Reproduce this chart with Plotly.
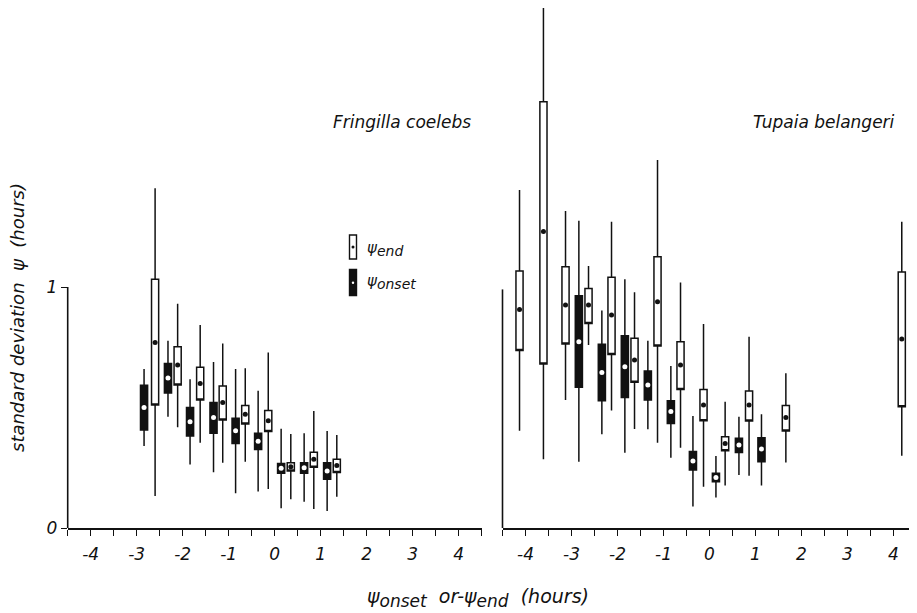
import plotly.graph_objects as go

# ---------------- data ----------------
# Fringilla coelebs (left panel)
fc_end_x = [-2.60, -2.11, -1.62, -1.13, -0.64, -0.14, 0.35, 0.85, 1.35]
fc_end_q3 = [1.032, 0.752, 0.667, 0.589, 0.508, 0.488, 0.271, 0.314, 0.285]
fc_end_q1 = [0.510, 0.593, 0.531, 0.448, 0.432, 0.400, 0.237, 0.252, 0.230]
fc_end_hi = [1.410, 0.930, 0.842, 0.766, 0.663, 0.728, 0.390, 0.485, 0.386]
fc_end_lo = [0.133, 0.418, 0.354, 0.271, 0.275, 0.162, 0.119, 0.079, 0.130]
fc_end_mean = [0.770, 0.676, 0.600, 0.521, 0.472, 0.445, 0.254, 0.285, 0.259]

fc_on_x = [-2.84, -2.32, -1.84, -1.33, -0.85, -0.36, 0.14, 0.64, 1.14]
fc_on_q3 = [0.592, 0.683, 0.500, 0.521, 0.455, 0.393, 0.268, 0.271, 0.271]
fc_on_q1 = [0.407, 0.560, 0.382, 0.393, 0.351, 0.326, 0.227, 0.227, 0.202]
fc_on_hi = [0.660, 0.777, 0.617, 0.689, 0.660, 0.570, 0.412, 0.393, 0.402]
fc_on_lo = [0.340, 0.462, 0.264, 0.231, 0.144, 0.151, 0.082, 0.109, 0.071]
fc_on_mean = [0.500, 0.622, 0.441, 0.458, 0.404, 0.360, 0.248, 0.250, 0.237]

# Tupaia belangeri (right panel)
tb_end_x = [-4.13, -3.61, -3.13, -2.63, -2.13, -1.63, -1.13, -0.63, -0.13, 0.34, 0.86, 1.66, 4.18]
tb_end_q3 = [1.066, 1.769, 1.084, 0.994, 1.040, 0.787, 1.126, 0.773, 0.575, 0.379, 0.568, 0.508, 1.062]
tb_end_q1 = [0.736, 0.680, 0.763, 0.849, 0.720, 0.605, 0.755, 0.575, 0.445, 0.321, 0.444, 0.402, 0.503]
tb_end_hi = [1.402, 2.160, 1.315, 1.087, 1.271, 0.978, 1.527, 1.019, 0.846, 0.524, 0.794, 0.642, 1.271]
tb_end_lo = [0.404, 0.285, 0.531, 0.759, 0.488, 0.411, 0.354, 0.333, 0.171, 0.176, 0.217, 0.272, 0.300]
tb_end_mean = [0.907, 1.230, 0.925, 0.925, 0.884, 0.697, 0.939, 0.676, 0.510, 0.351, 0.510, 0.458, 0.784]

tb_on_x = [-2.84, -2.34, -1.84, -1.34, -0.84, -0.36, 0.14, 0.64, 1.13]
tb_on_q3 = [0.964, 0.762, 0.798, 0.651, 0.528, 0.317, 0.227, 0.372, 0.375]
tb_on_q1 = [0.584, 0.528, 0.542, 0.531, 0.434, 0.241, 0.192, 0.313, 0.275]
tb_on_hi = [1.275, 0.902, 1.032, 0.777, 0.672, 0.465, 0.299, 0.462, 0.472]
tb_on_lo = [0.275, 0.389, 0.312, 0.410, 0.292, 0.089, 0.127, 0.220, 0.176]
tb_on_mean = [0.773, 0.645, 0.669, 0.593, 0.483, 0.278, 0.210, 0.344, 0.328]

x_tick_vals = [-4, -3, -2, -1, 0, 1, 2, 3, 4]
x_tick_labels = ["-4", "-3", "-2", "-1", "0", "1", "2", "3", "4"]
y_tick_vals = [0, 1]
y_tick_labels = ["0", "1"]

# ---------------- styling ----------------
# The page places the figure 8 px in from the top-left corner (body margin),
# so the figure is sized and laid out to compensate.
OFF = 8
W, H = 917 - OFF, 613 - OFF
ZERO_ROW = 528             # screenshot row of y = 0
PLOT_BOTTOM = ZERO_ROW - OFF
PX_PER_UNIT = 241.0
INK = "#111111"
FONT = "DejaVu Sans"
BOX_W = 0.155
LW = 1.5
AXW = 1.6
LEFT_X0, LEFT_X1 = 67.7, 481.7
RIGHT_X0, RIGHT_X1 = 502.5, 916.5


def px(xs):
    """screenshot column -> paper x"""
    return (xs - OFF) / W


def py(ys):
    """screenshot row -> paper y"""
    return (ZERO_ROW - ys) / PLOT_BOTTOM


fig = go.Figure()


def add_boxes(xs, q1, q3, lo, hi, mean, filled, xa, ya):
    fig.add_trace(go.Box(
        x=xs, q1=q1, median=q1, q3=q3, lowerfence=lo, upperfence=hi,
        width=BOX_W, whiskerwidth=0, boxpoints=False,
        fillcolor=INK if filled else "white",
        line=dict(color=INK, width=LW),
        xaxis=xa, yaxis=ya, showlegend=False, hoverinfo="skip",
    ))
    fig.add_trace(go.Scatter(
        x=xs, y=mean, mode="markers",
        marker=dict(size=5, color="white" if filled else INK, line=dict(width=0)),
        xaxis=xa, yaxis=ya, showlegend=False, hoverinfo="skip",
    ))


add_boxes(fc_on_x, fc_on_q1, fc_on_q3, fc_on_lo, fc_on_hi, fc_on_mean, True, "x", "y")
add_boxes(fc_end_x, fc_end_q1, fc_end_q3, fc_end_lo, fc_end_hi, fc_end_mean, False, "x", "y")
add_boxes(tb_on_x, tb_on_q1, tb_on_q3, tb_on_lo, tb_on_hi, tb_on_mean, True, "x2", "y2")
add_boxes(tb_end_x, tb_end_q1, tb_end_q3, tb_end_lo, tb_end_hi, tb_end_mean, False, "x2", "y2")

tickfont = dict(family=FONT, size=17, color=INK, style="italic")
xax = dict(
    range=[-4.5, 4.5], showgrid=False, zeroline=False,
    showline=True, linecolor=INK, linewidth=AXW,
    ticks="outside", ticklen=6, tickwidth=1.3, tickcolor=INK,
    tickvals=x_tick_vals, ticktext=x_tick_labels,
    tickfont=tickfont, ticklabelstandoff=4,
    minor=dict(tick0=-4.5, dtick=0.5, ticks="outside", ticklen=6, tickwidth=1.3,
               tickcolor=INK, showgrid=False),
)
yrange = [0, PLOT_BOTTOM / PX_PER_UNIT]

fig.update_layout(
    width=W, height=H, autosize=False,
    margin=dict(l=0, r=0, t=0, b=H - PLOT_BOTTOM, pad=0),
    paper_bgcolor="white", plot_bgcolor="white",
    boxmode="overlay",
    xaxis=dict(domain=[px(LEFT_X0), px(LEFT_X1)], anchor="y", **xax),
    xaxis2=dict(domain=[px(RIGHT_X0), min(1.0, px(RIGHT_X1))], anchor="y2", **xax),
    yaxis=dict(domain=[0, 1], anchor="x", range=yrange, showgrid=False, zeroline=False,
               showline=False, ticks="outside", ticklen=6, tickwidth=1.3, tickcolor=INK,
               tickvals=y_tick_vals, ticktext=y_tick_labels, tickfont=tickfont),
    yaxis2=dict(domain=[0, 1], anchor="x2", range=yrange, showgrid=False, zeroline=False,
                showline=False, showticklabels=False, ticks=""),
)

# vertical axis lines (only from 0 to 1), placed in paper x so they are not half clipped
fig.add_shape(type="line", xref="paper", yref="y", x0=px(LEFT_X0), x1=px(LEFT_X0), y0=0, y1=1,
              line=dict(color=INK, width=AXW))
fig.add_shape(type="line", xref="paper", yref="y2", x0=px(RIGHT_X0), x1=px(RIGHT_X0), y0=0, y1=0.99,
              line=dict(color=INK, width=AXW))

# manual legend
fig.add_shape(type="rect", xref="paper", yref="paper",
              x0=px(349.5), x1=px(356.5), y0=py(259), y1=py(235),
              line=dict(color=INK, width=1.4), fillcolor="white")
fig.add_shape(type="circle", xref="paper", yref="paper",
              x0=px(351.5), x1=px(354.5), y0=py(248.5), y1=py(245.5),
              line=dict(width=0), fillcolor=INK)
fig.add_shape(type="rect", xref="paper", yref="paper",
              x0=px(349.5), x1=px(356.5), y0=py(295.5), y1=py(269.5),
              line=dict(color=INK, width=1.4), fillcolor=INK)
fig.add_shape(type="circle", xref="paper", yref="paper",
              x0=px(351.8), x1=px(354.2), y0=py(284), y1=py(281.6),
              line=dict(width=0), fillcolor="white")

txt = dict(family=FONT, size=17, color=INK, style="italic")
sub = "<sub><span style='font-size:14px'>%s</span></sub>"
fig.add_annotation(xref="paper", yref="paper", x=px(365), y=py(249), xanchor="left", yanchor="middle",
                   text="ψ" + sub % "end", showarrow=False, font=dict(txt, size=15))
fig.add_annotation(xref="paper", yref="paper", x=px(365), y=py(282), xanchor="left", yanchor="middle",
                   text="ψ" + sub % "onset", showarrow=False, font=dict(txt, size=15))

# panel titles
fig.add_annotation(xref="paper", yref="paper", x=px(402), y=py(122), xanchor="center", yanchor="middle",
                   text="Fringilla coelebs", showarrow=False, font=txt)
fig.add_annotation(xref="paper", yref="paper", x=px(824), y=py(122), xanchor="center", yanchor="middle",
                   text="Tupaia belangeri", showarrow=False, font=txt)

# axis titles
fig.add_annotation(xref="paper", yref="paper", x=px(17), y=py(318), xanchor="center", yanchor="middle",
                   textangle=-90, text="standard deviation  ψ  (hours)", showarrow=False,
                   font=dict(txt, size=18))
fig.add_annotation(xref="paper", yref="paper", x=px(365), y=py(598), xanchor="left", yanchor="middle",
                   text="ψ" + "<sub><span style='font-size:17px'>onset</span></sub>" + "  or-ψ"
                   + "<sub><span style='font-size:17px'>end</span></sub>" + "  (hours)",
                   showarrow=False, font=dict(txt, size=19))

fig.write_html("out.html")
